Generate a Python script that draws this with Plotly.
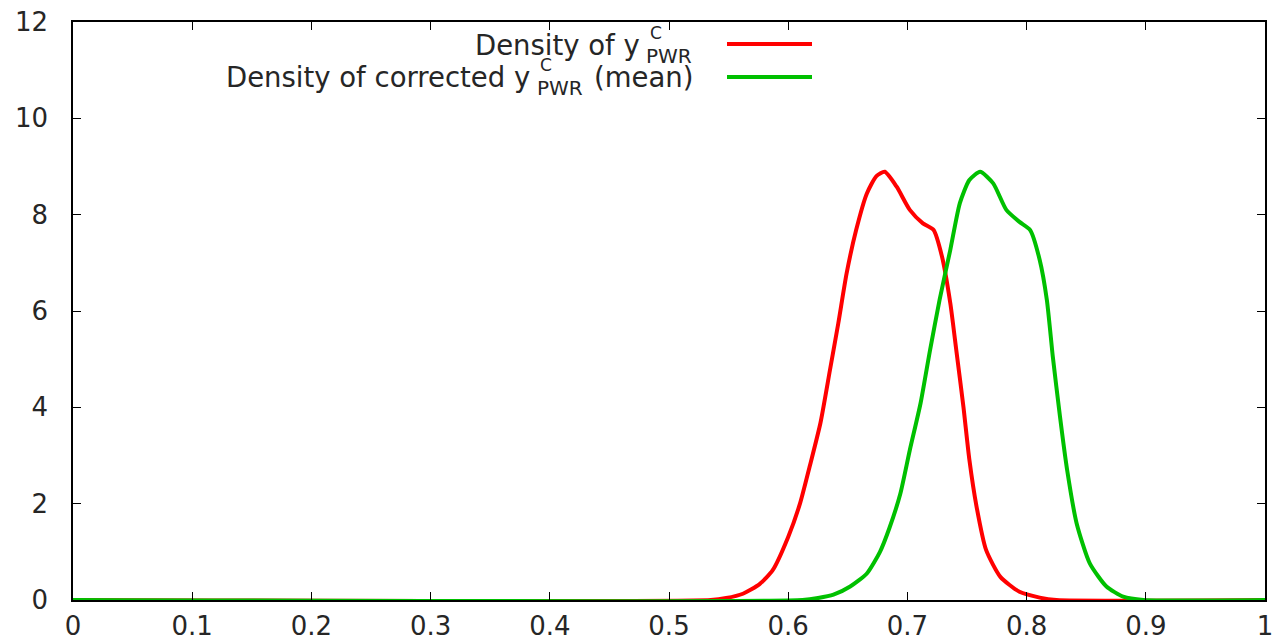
import plotly.graph_objects as go

# ---- data ----
red_x = [0.0, 0.535, 0.548, 0.562, 0.576, 0.587, 0.600, 0.610, 0.618, 0.627, 0.635, 0.642,
         0.649, 0.657, 0.666, 0.674, 0.681, 0.691, 0.702, 0.713, 0.722, 0.729, 0.736, 0.741,
         0.747, 0.752, 0.758, 0.766, 0.778, 0.794, 0.811, 0.825, 1.0]
red_y = [0.0, 0.0, 0.04, 0.13, 0.33, 0.62, 1.31, 2.01, 2.77, 3.67, 4.77, 5.74,
         6.78, 7.68, 8.44, 8.80, 8.89, 8.58, 8.10, 7.82, 7.68, 7.13, 6.16, 5.19,
         4.01, 2.91, 1.94, 1.04, 0.48, 0.17, 0.05, 0.0, 0.0]

green_x = [0.0, 0.612, 0.625, 0.638, 0.652, 0.666, 0.677, 0.685, 0.694, 0.702, 0.711, 0.719,
           0.727, 0.736, 0.744, 0.752, 0.761, 0.772, 0.783, 0.794, 0.803, 0.811, 0.817,
           0.822, 0.828, 0.834, 0.842, 0.853, 0.867, 0.881, 0.898, 1.0]
green_y = [0.0, 0.0, 0.04, 0.11, 0.28, 0.55, 1.00, 1.50, 2.20, 3.11, 4.08, 5.19,
           6.23, 7.27, 8.24, 8.72, 8.89, 8.65, 8.10, 7.85, 7.68, 7.06, 6.23,
           5.05, 3.81, 2.70, 1.59, 0.76, 0.28, 0.07, 0.0, 0.0]

x_ticks = [0, 0.1, 0.2, 0.3, 0.4, 0.5, 0.6, 0.7, 0.8, 0.9, 1]
x_tick_labels = ["0", "0.1", "0.2", "0.3", "0.4", "0.5", "0.6", "0.7", "0.8", "0.9", "1"]
y_ticks = [0, 2, 4, 6, 8, 10, 12]
y_tick_labels = ["0", "2", "4", "6", "8", "10", "12"]

RED = "#ff0000"
GREEN = "#00c000"
FONT = "DejaVu Sans"
TXT = "#262626"

W, H = 1274, 644
L, R, T, B = 73, 9, 22, 44
PW, PH = W - L - R, H - T - B


def px(xp):
    return (xp - L) / PW


def py(yp):
    return (H - B - yp) / PH


fig = go.Figure()
fig.add_trace(go.Scatter(x=red_x, y=red_y, mode="lines",
                         line=dict(color=RED, width=4, shape="spline", smoothing=0.6),
                         name="red", showlegend=False))
fig.add_trace(go.Scatter(x=green_x, y=green_y, mode="lines",
                         line=dict(color=GREEN, width=4, shape="spline", smoothing=0.6),
                         name="green", showlegend=False))

axis_common = dict(showgrid=False, zeroline=False, showline=True, mirror="allticks",
                   linecolor="black", linewidth=1.5, ticks="inside", ticklen=8,
                   tickwidth=1, tickcolor="black", automargin=False,
                   tickfont=dict(family=FONT, size=26, color=TXT))

fig.update_xaxes(range=[0, 1], tickvals=x_ticks, ticktext=x_tick_labels,
                 ticklabelstandoff=2, **axis_common)
fig.update_yaxes(range=[0, 12], tickvals=y_ticks, ticktext=y_tick_labels,
                 ticklabelstandoff=18, **axis_common)

annotations = []
shapes = []
main_size = 27.5
sup_size = 17
sub_size = 20
# legend row 1
annotations += [
    dict(text="Density of y", x=px(641), y=py(45), xanchor="right", yanchor="middle",
         font=dict(family=FONT, size=main_size, color=TXT)),
    dict(text="C", x=px(649), y=py(33), xanchor="left", yanchor="middle",
         font=dict(family=FONT, size=sup_size, color=TXT)),
    dict(text="PWR", x=px(645), y=py(56), xanchor="left", yanchor="middle",
         font=dict(family=FONT, size=sub_size, color=TXT)),
]
# legend row 2
annotations += [
    dict(text="Density of corrected y", x=px(531), y=py(77), xanchor="right", yanchor="middle",
         font=dict(family=FONT, size=main_size, color=TXT)),
    dict(text="C", x=px(539), y=py(65), xanchor="left", yanchor="middle",
         font=dict(family=FONT, size=sup_size, color=TXT)),
    dict(text="PWR", x=px(536), y=py(88), xanchor="left", yanchor="middle",
         font=dict(family=FONT, size=sub_size, color=TXT)),
    dict(text="(mean)", x=px(694), y=py(77), xanchor="right", yanchor="middle",
         font=dict(family=FONT, size=main_size, color=TXT)),
]
for a in annotations:
    a.update(xref="paper", yref="paper", showarrow=False, borderpad=0)

shapes.append(dict(type="line", xref="paper", yref="paper", x0=px(727), x1=px(812),
                   y0=py(44), y1=py(44), line=dict(color=RED, width=4)))
shapes.append(dict(type="line", xref="paper", yref="paper", x0=px(727), x1=px(812),
                   y0=py(77), y1=py(77), line=dict(color=GREEN, width=4)))

fig.update_layout(width=W, height=H, margin=dict(l=L, r=R, t=T, b=B),
                  paper_bgcolor="white", plot_bgcolor="white",
                  annotations=annotations, shapes=shapes, showlegend=False)

fig.write_html("out.html")
